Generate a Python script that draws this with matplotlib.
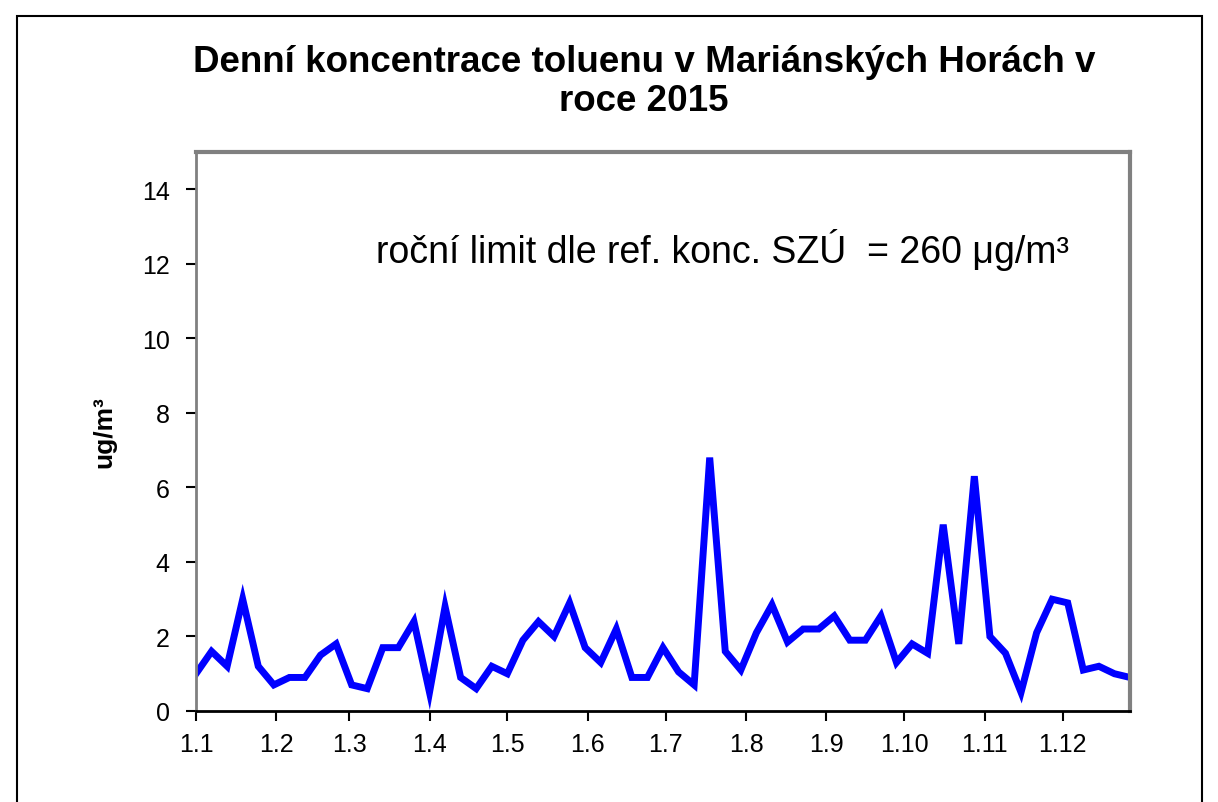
import matplotlib
matplotlib.use("Agg")
from matplotlib import pyplot as plt
from matplotlib.patches import Rectangle
from matplotlib.ticker import FuncFormatter
import matplotlib.dates as mdates
import pandas as pd

plt.rcParams['font.family'] = ['Liberation Sans', 'DejaVu Sans']

# toluene, sampled every 6th day of 2015
dates = pd.date_range("2015-01-01", periods=61, freq="6D")
toluene = [1.0, 1.6, 1.2, 3.0, 1.2, 0.7, 0.9, 0.9, 1.5, 1.8,
           0.7, 0.6, 1.7, 1.7, 2.4, 0.5, 2.8, 0.9, 0.6, 1.2,
           1.0, 1.9, 2.4, 2.0, 2.9, 1.7, 1.3, 2.2, 0.9, 0.9,
           1.7, 1.05, 0.7, 6.8, 1.6, 1.1, 2.1, 2.85, 1.85, 2.2,
           2.2, 2.55, 1.9, 1.9, 2.55, 1.3, 1.8, 1.55, 5.0, 1.8,
           6.3, 2.0, 1.55, 0.5, 2.1, 3.0, 2.9, 1.1, 1.2, 1.0,
           0.9]
month_ticks = pd.date_range("2015-01-01", periods=12, freq="MS")

title = "Denní koncentrace toluenu v Mariánských Horách v\nroce 2015"
note = "roční limit dle ref. konc. SZÚ  = 260 μg/m³"

fig = plt.figure(figsize=(12.18, 8.03), dpi=100)
ax = fig.add_axes([196 / 1218, 1 - 712 / 803, (1130 - 196) / 1218, (712 - 153) / 803])

ax.plot(dates, toluene, color="#0000FF", linewidth=5, solid_joinstyle="miter")

ax.set_xlim(dates[0], dates[-1])
ax.set_ylim(0, 15)
ax.set_yticks(range(0, 15, 2))
ax.set_xticks(month_ticks)
ax.xaxis.set_major_formatter(FuncFormatter(lambda v, p: f"{mdates.num2date(v).day}.{mdates.num2date(v).month}"))
ax.tick_params(axis="both", direction="out", length=7, width=1.5, labelsize=18, colors="black")
ax.tick_params(axis="y", pad=12)
ax.tick_params(axis="x", pad=8)

for side in ["left", "top", "right"]:
    ax.spines[side].set_color("#808080")
ax.spines["left"].set_linewidth(2)
ax.spines["top"].set_linewidth(3)
ax.spines["right"].set_linewidth(3)
ax.spines["bottom"].set_color("black")
ax.spines["bottom"].set_linewidth(2)

ax.set_ylabel("ug/m³", fontsize=19, fontweight="bold", labelpad=18)
ax.text(0.193, 0.826, note, transform=ax.transAxes, ha="left", va="center", fontsize=27)

fig.text(644 / 1218, 1 - 82 / 803, title, ha="center", va="center",
         fontsize=26.5, fontweight="bold", linespacing=1.15)

fig.add_artist(Rectangle((17 / 1218, -0.05), (1202 - 17) / 1218, (803 - 17) / 803 + 0.05,
                         transform=fig.transFigure, fill=False, edgecolor="black", linewidth=1.5))

fig.savefig("out.png", dpi=100)
